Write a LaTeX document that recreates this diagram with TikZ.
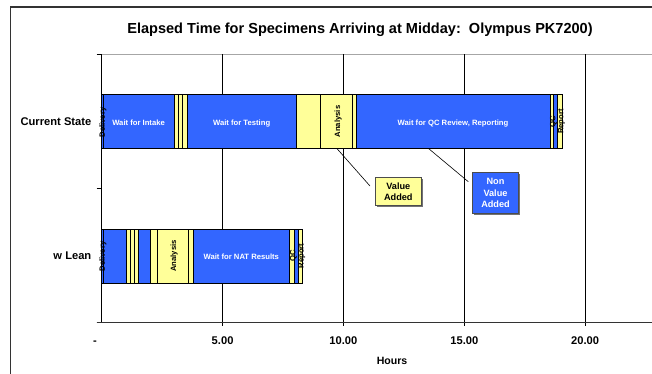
\documentclass[tikz,border=0pt]{standalone}
\usepackage{fontspec}
\setmainfont{Liberation Sans}
\definecolor{nvblue}{HTML}{3366FF}
\definecolor{vayel}{HTML}{FFFF99}
\tikzset{
  seg/.style={draw=black, line width=0.6bp},
  gridln/.style={draw=black, line width=0.7bp},
  bartxt/.style={inner sep=0pt, font=\fontsize{7.7}{8}\selectfont\bfseries, text height=0.716em, text depth=0pt},
  bartxtr/.style={bartxt, rotate=90, text=black},
  catlbl/.style={inner sep=0pt, anchor=east, font=\fontsize{11.2}{12}\selectfont\bfseries, text height=0.716em, text depth=0pt},
  ticklbl/.style={inner sep=0pt, font=\fontsize{11.2}{12}\selectfont\bfseries, text height=0.716em, text depth=0pt},
  callout/.style={draw=black!70, line width=0.8bp, inner sep=0pt, align=center, font=\fontsize{9.2}{11.3}\selectfont\bfseries},
  calloutshadow/.style={fill=black!55},
  leader/.style={draw=black, line width=0.6bp}
}
\begin{document}
\begin{tikzpicture}[x=1bp,y=-1bp]
\useasboundingbox (0,0) rectangle (652,373);
\fill[white] (0,0) rectangle (652,373);
% chart frame
\draw[black!80, line width=1.2bp] (10.5,374) -- (10.5,7) -- (653,7);
% title
\node[inner sep=0pt, font=\fontsize{14.6}{16}\selectfont\bfseries] (title) at (360,30) {Elapsed Time for Specimens Arriving at Midday:\ \ Olympus PK7200)};
% plot area top border
\draw[black!35, line width=1bp] (101.7,54) -- (653,54);
% vertical gridlines
\foreach \h in {5,10,15,20} {
  \draw[gridln] ({101.7+24.17*\h},54) -- ({101.7+24.17*\h},325.5);
}
% bars
\begin{scope}[xshift=101.7bp, x=24.17bp]
  % Current State
  \foreach \a/\b/\c in {0/0.05/nvblue, 0.05/3.0/nvblue, 3.0/3.17/vayel, 3.17/3.33/vayel, 3.33/3.54/vayel,
      3.54/8.04/nvblue, 8.04/9.06/vayel, 9.06/10.37/vayel, 10.37/10.52/vayel, 10.52/18.55/nvblue,
      18.55/18.70/vayel, 18.70/18.83/nvblue, 18.83/19.07/vayel} {
    \filldraw[seg, fill=\c] (\a,94.7) rectangle (\b,148.3);
  }
  % w Lean
  \foreach \a/\b/\c in {0/0.05/nvblue, 0.05/1.03/nvblue, 1.03/1.20/vayel, 1.20/1.35/vayel, 1.35/1.51/vayel,
      1.51/2.0/nvblue, 2.0/2.28/vayel, 2.28/3.58/vayel, 3.58/3.79/vayel, 3.79/7.76/nvblue,
      7.76/7.96/vayel, 7.96/8.13/nvblue, 8.13/8.29/vayel} {
    \filldraw[seg, fill=\c] (\a,229) rectangle (\b,283);
  }
  % labels current state
  \node[bartxtr] (del1) at (-0.02,122.5) {Delivery};
  \node[bartxt, text=white] (wint) at (1.525,121.5) {Wait for Intake};
  \node[bartxt, text=white] (wtest) at (5.79,121.5) {Wait for Testing};
  \node[bartxtr] (ana1) at (9.715,121.5) {Analysis};
  \node[bartxt, text=white] (wqc) at (14.535,121.5) {Wait for QC Review, Reporting};
  \node[bartxtr] (qc1) at (18.625,121.5) {QC};
  \node[bartxtr] (rep1) at (18.95,121.5) {Report};
  % labels w Lean
  \node[bartxtr] (del2) at (-0.02,256.5) {Delivery};
  \node[bartxtr] (ana2) at (2.93,256) {Analysis};
  \node[bartxt, text=white] (wnat) at (5.775,255.7) {Wait for NAT Results};
  \node[bartxtr] (qc2) at (7.86,256) {QC};
  \node[bartxtr] (rep2) at (8.21,256) {Report};
\end{scope}
% axes
\draw[black, line width=0.8bp] (101.7,54) -- (101.7,322.7);
\foreach \yy in {54,188.7,322.7} { \draw[black, line width=0.8bp] (96.7,\yy) -- (101.7,\yy); }
\draw[black!80, line width=1.3bp] (96.7,322.7) -- (653,322.7);
% category labels
\node[catlbl] (cs) at (91.5,121.5) {Current State};
\node[catlbl] (wl) at (91.5,256) {w Lean};
% tick labels
\node[ticklbl] (t0) at (95,340.7) {-};
\node[ticklbl] (t5) at (222.6,340.7) {5.00};
\node[ticklbl] (t10) at (343.4,340.7) {10.00};
\node[ticklbl] (t15) at (464.3,340.7) {15.00};
\node[ticklbl] (t20) at (585.1,340.7) {20.00};
\node[inner sep=0pt, font=\fontsize{10.6}{12}\selectfont\bfseries, text height=0.716em, text depth=0pt] (hours) at (392,360.7) {Hours};
% callout shadows
\fill[calloutshadow] (377.2,179.2) rectangle (422.5,207.2);
\fill[calloutshadow] (474.2,174.2) rectangle (519.8,214.8);
% callouts
\node[callout, fill=vayel, text=black, minimum width=45.3bp, minimum height=28bp] (va) at (398.3,191.7) {Value\\Added};
\node[callout, fill=nvblue, text=white, minimum width=45.6bp, minimum height=40.6bp] (nva) at (495.5,193) {Non\\Value\\Added};
\coordinate (vaS) at (336.7,148.3);
\coordinate (vaE) at (370,186);
\coordinate (nvaS) at (428.3,148.3);
\coordinate (nvaE) at (468.3,181.7);
\draw[leader] (vaS) -- (vaE);
\draw[leader] (nvaS) -- (nvaE);
\end{tikzpicture}
\end{document}
